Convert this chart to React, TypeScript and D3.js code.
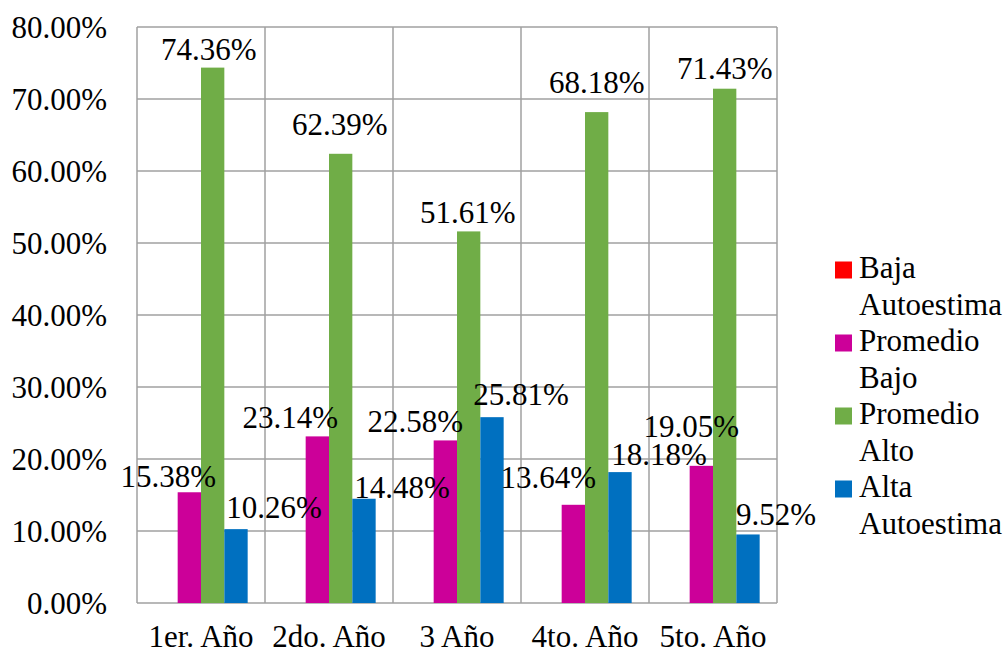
import React from "react";
import * as d3 from "d3";

const categories = ["1er. Año", "2do. Año", "3 Año", "4to. Año", "5to. Año"];
const seriesNames = ["Baja Autoestima", "Promedio Bajo", "Promedio Alto", "Alta Autoestima"];
const legendLines = [["Baja", "Autoestima"], ["Promedio", "Bajo"], ["Promedio", "Alto"], ["Alta", "Autoestima"]];
const bajaAutoestima = [0, 0, 0, 0, 0];
const promedioBajo = [15.38, 23.14, 22.58, 13.64, 19.05];
const promedioAlto = [74.36, 62.39, 51.61, 68.18, 71.43];
const altaAutoestima = [10.26, 14.48, 25.81, 18.18, 9.52];
const yTicks = [0, 10, 20, 30, 40, 50, 60, 70, 80];

const seriesValues = [bajaAutoestima, promedioBajo, promedioAlto, altaAutoestima];
const colors = ["#FF0000", "#CC0099", "#70AD47", "#0070C0"];

// label nudges (px) relative to the default "above bar, centered" spot
const labelDx = [
  [0, 0, 0, 0, 0],
  [-21, -27, -30, -25, -10],
  [-4, -1, -1, 0, 0],
  [38, 38, 29, 39, 28],
];
const labelDy = [
  [0, 0, 0, 0, 0],
  [3, 0, 0, -9, -21],
  [0, -11, 0, -11, -2],
  [-3, 7, -4, 1, -1],
];

const W = 1008;
const H = 654;
const plot = { left: 137, right: 777, top: 27, bottom: 603 };
const FONT = "Liberation Serif, Tinos, Times New Roman, DejaVu Serif, serif";
const FS = 31;
const GRID = "#A0A0A0";

export default function App() {
  const x0 = d3.scaleBand<string>().domain(categories).range([plot.left, plot.right]).padding(0);
  const x1 = d3
    .scaleBand<string>()
    .domain(seriesNames)
    .range([0, x0.bandwidth()])
    .paddingInner(0)
    .paddingOuter(0.743);
  const y = d3.scaleLinear().domain([0, 80]).range([plot.bottom, plot.top]);

  const boundaries = categories.map((c) => x0(c) as number).concat([plot.right]);
  const ts: React.CSSProperties = { fontFamily: FONT, fontSize: FS };

  return (
    <svg
      width={W}
      height={H}
      style={{ position: "absolute", left: 0, top: 0, background: "#fff", fontFamily: FONT }}
    >
      <rect x={0} y={0} width={W} height={H} fill="#fff" />
      {yTicks.map((t) => (
        <line key={"h" + t} x1={plot.left} x2={plot.right} y1={y(t)} y2={y(t)} stroke={GRID} strokeWidth={1.5} />
      ))}
      {boundaries.map((b, i) => (
        <line key={"v" + i} x1={b} x2={b} y1={plot.top} y2={plot.bottom} stroke={GRID} strokeWidth={1.5} />
      ))}
      {yTicks.map((t) => (
        <text key={"yt" + t} x={107} y={y(t)} dy="0.34em" textAnchor="end" style={ts} fill="#000">
          {t.toFixed(2) + "%"}
        </text>
      ))}
      {seriesNames.map((s, si) =>
        categories.map((c, ci) => {
          const v = seriesValues[si][ci];
          const bx = (x0(c) as number) + (x1(s) as number);
          return (
            <rect
              key={s + c}
              x={bx}
              y={y(v)}
              width={x1.bandwidth()}
              height={plot.bottom - y(v)}
              fill={colors[si]}
            />
          );
        })
      )}
      {seriesNames.map((s, si) =>
        categories.map((c, ci) => {
          const v = seriesValues[si][ci];
          if (v === 0) return null;
          const cx = (x0(c) as number) + (x1(s) as number) + x1.bandwidth() / 2 + labelDx[si][ci];
          return (
            <text
              key={"l" + s + c}
              x={cx}
              y={y(v) - 8 + labelDy[si][ci]}
              textAnchor="middle"
              style={ts}
              fill="#000"
            >
              {v.toFixed(2) + "%"}
            </text>
          );
        })
      )}
      {categories.map((c) => (
        <text
          key={"c" + c}
          x={(x0(c) as number) + x0.bandwidth() / 2}
          y={647}
          textAnchor="middle"
          style={ts}
          fill="#000"
        >
          {c}
        </text>
      ))}
      {legendLines.map((lines, i) => {
        const base = 278 + i * 73;
        return (
          <g key={"lg" + i}>
            <rect x={835} y={base - 16.5} width={17} height={17} fill={colors[i]} />
            <text x={859} y={base} style={ts} fill="#000">
              {lines[0]}
            </text>
            <text x={859} y={base + 36.5} style={ts} fill="#000">
              {lines[1]}
            </text>
          </g>
        );
      })}
    </svg>
  );
}
